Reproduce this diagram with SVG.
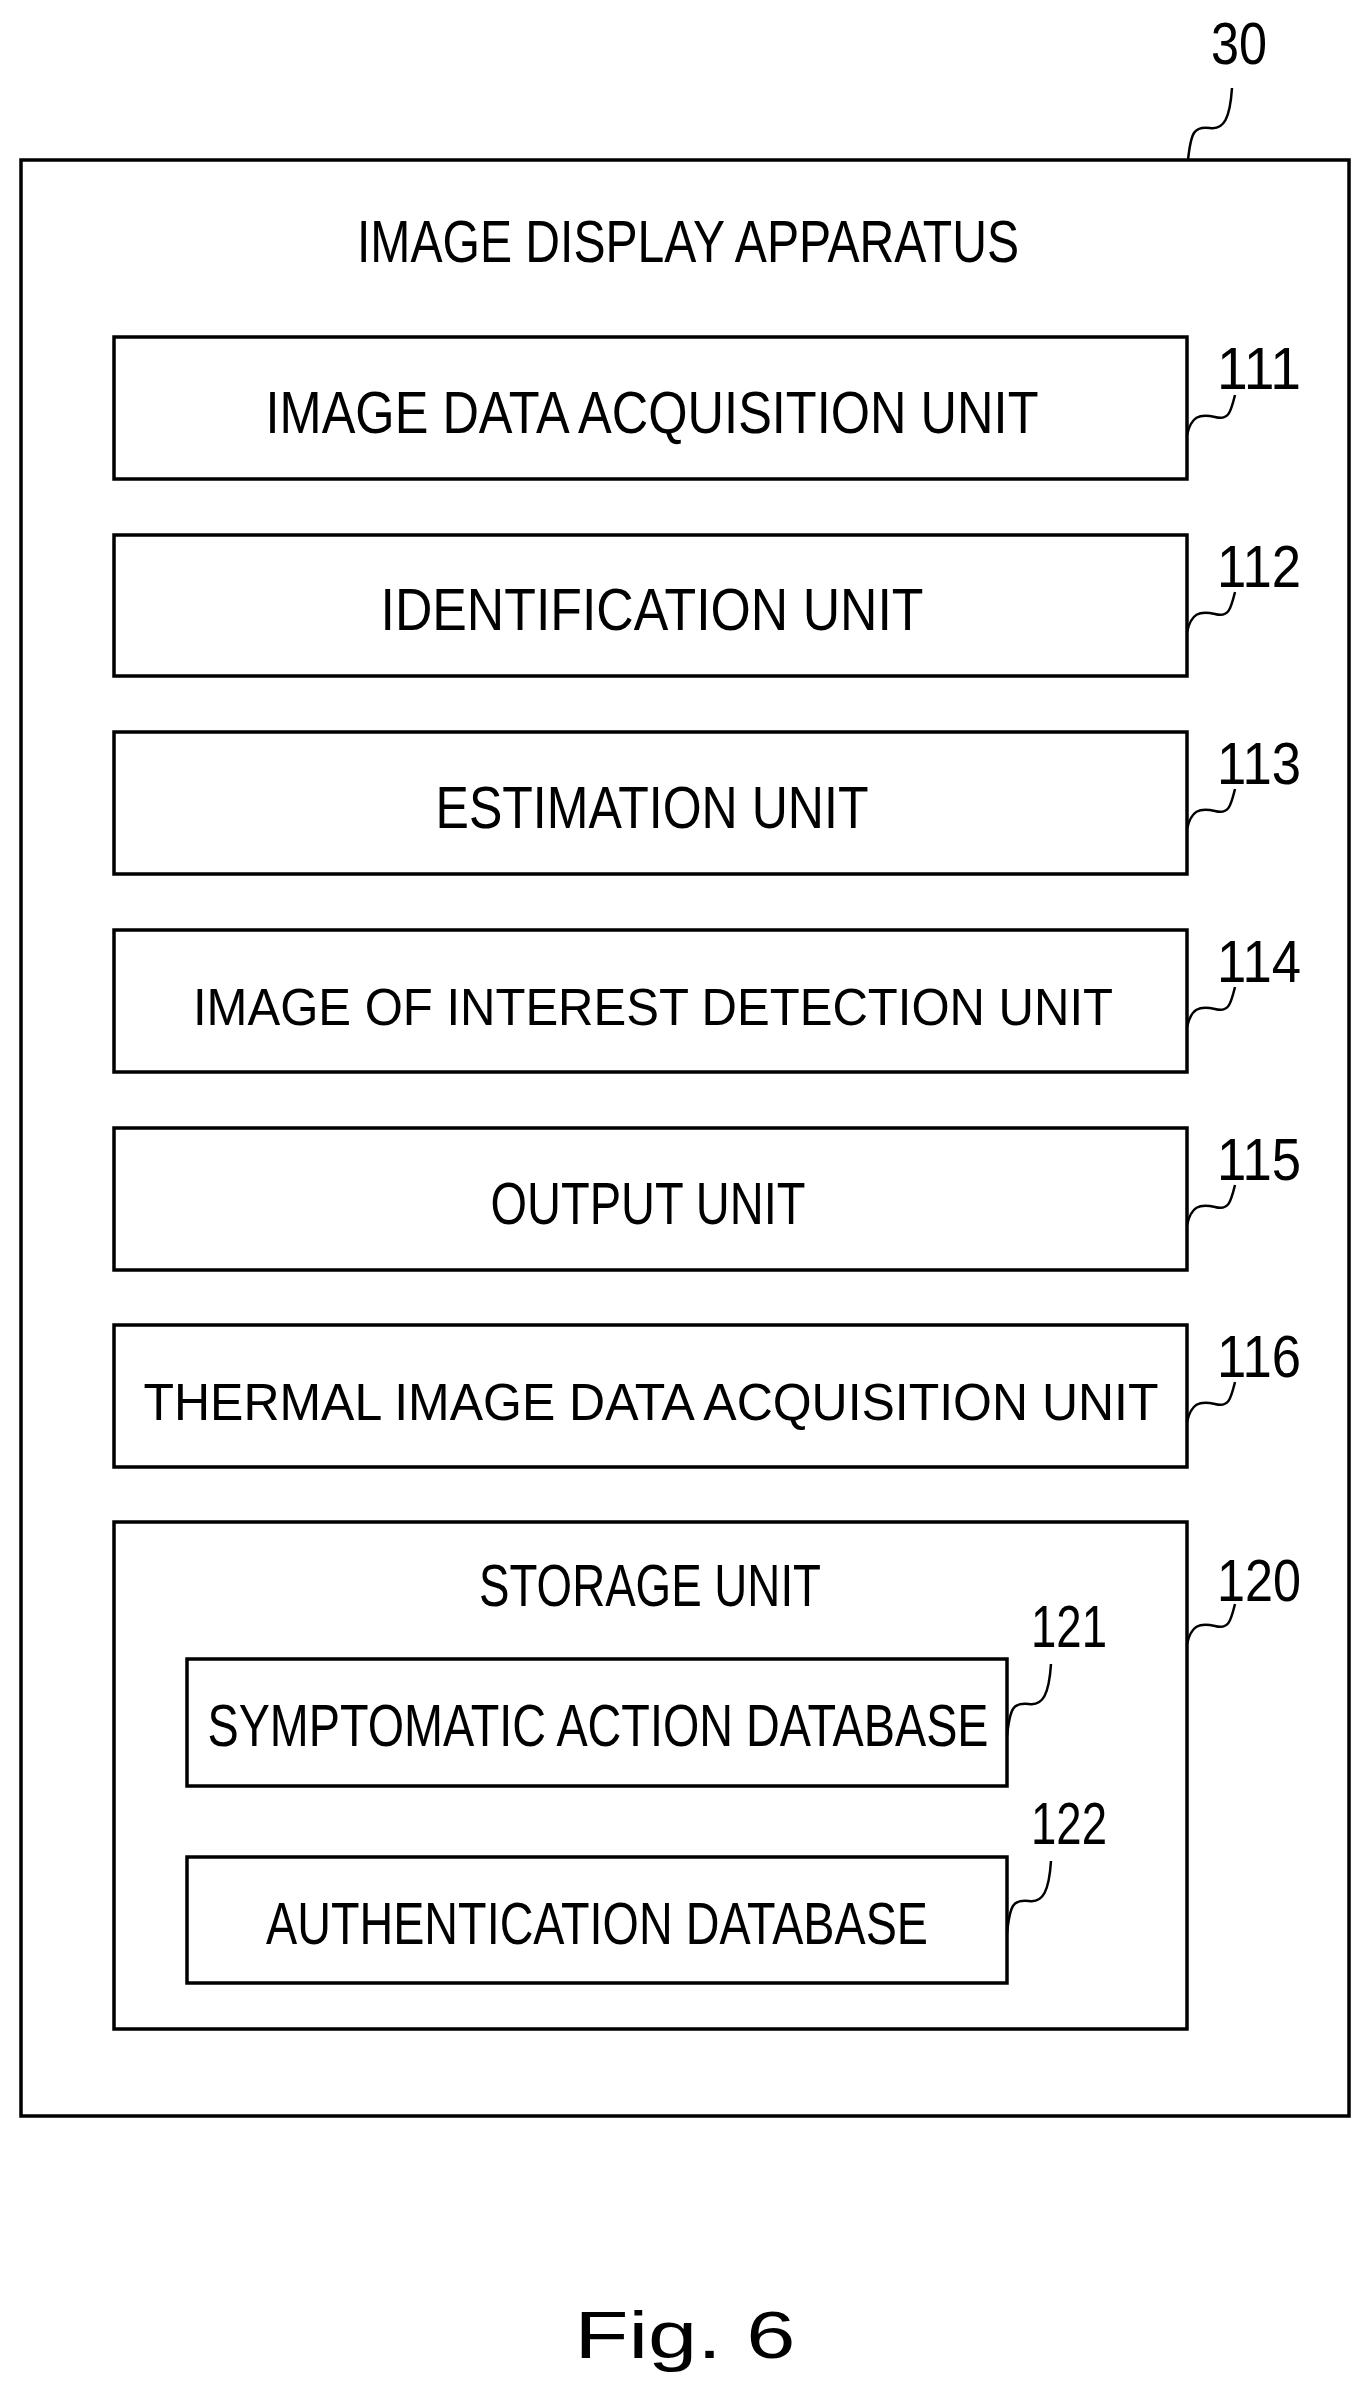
<svg xmlns="http://www.w3.org/2000/svg" width="1369" height="2381" viewBox="0 0 1369 2381">
<style>
.b{fill:none;stroke:#000;stroke-width:3.5}
.s{fill:none;stroke:#000;stroke-width:2.5}
text{font-family:"Liberation Sans",Arial,sans-serif;font-size:60px;fill:#000;text-anchor:middle}
.n{text-anchor:start}
.w{font-size:52px}
</style>
<defs>
<path id="sq" d="M0,0 c4,-18 12,-22 28,-18 c14,4 16,-6 20,-22"/>
<path id="sqL" d="M0,0 c3,-28 6,-34 22,-32 c14,2 20,-10 22,-40"/>
</defs>
<rect width="1369" height="2381" fill="#fff"/>
<g id="apparatus">
<rect class="b" x="21" y="160" width="1328" height="1956"/>
<text x="688" y="262" textLength="662" lengthAdjust="spacingAndGlyphs">IMAGE DISPLAY APPARATUS</text>
<text class="n" x="1211" y="64" textLength="56" lengthAdjust="spacingAndGlyphs">30</text>
</g>
<g id="n111"><rect class="b" x="114" y="337" width="1073" height="142"/><text x="652" y="433" textLength="773" lengthAdjust="spacingAndGlyphs">IMAGE DATA ACQUISITION UNIT</text><text class="n" x="1217" y="389" textLength="84" lengthAdjust="spacingAndGlyphs">111</text></g>
<g id="n112"><rect class="b" x="114" y="535" width="1073" height="141"/><text x="652" y="630" textLength="543" lengthAdjust="spacingAndGlyphs">IDENTIFICATION UNIT</text><text class="n" x="1217" y="587" textLength="84" lengthAdjust="spacingAndGlyphs">112</text></g>
<g id="n113"><rect class="b" x="114" y="732" width="1073" height="142"/><text x="652" y="828" textLength="433" lengthAdjust="spacingAndGlyphs">ESTIMATION UNIT</text><text class="n" x="1217" y="784" textLength="84" lengthAdjust="spacingAndGlyphs">113</text></g>
<g id="n114"><rect class="b" x="114" y="930" width="1073" height="142"/><text class="w" x="653" y="1025" textLength="920" lengthAdjust="spacingAndGlyphs" style="font-size:52px">IMAGE OF INTEREST DETECTION UNIT</text><text class="n" x="1217" y="982" textLength="84" lengthAdjust="spacingAndGlyphs">114</text></g>
<g id="n115"><rect class="b" x="114" y="1128" width="1073" height="142"/><text x="648" y="1224" textLength="315" lengthAdjust="spacingAndGlyphs">OUTPUT UNIT</text><text class="n" x="1217" y="1180" textLength="84" lengthAdjust="spacingAndGlyphs">115</text></g>
<g id="n116"><rect class="b" x="114" y="1325" width="1073" height="142"/><text class="w" x="651" y="1420" textLength="1015" lengthAdjust="spacingAndGlyphs" style="font-size:52px">THERMAL IMAGE DATA ACQUISITION UNIT</text><text class="n" x="1217" y="1377" textLength="84" lengthAdjust="spacingAndGlyphs">116</text></g>
<g id="n120"><rect class="b" x="114" y="1522" width="1073" height="507"/><text x="650" y="1606" textLength="342" lengthAdjust="spacingAndGlyphs">STORAGE UNIT</text><text class="n" x="1217" y="1601" textLength="84" lengthAdjust="spacingAndGlyphs">120</text></g>
<g id="n121"><rect class="b" x="187" y="1659" width="820" height="127"/><text x="598" y="1746" textLength="781" lengthAdjust="spacingAndGlyphs">SYMPTOMATIC ACTION DATABASE</text><text class="n" x="1031" y="1647" textLength="76" lengthAdjust="spacingAndGlyphs">121</text></g>
<g id="n122"><rect class="b" x="187" y="1857" width="820" height="126"/><text x="597" y="1944" textLength="662" lengthAdjust="spacingAndGlyphs">AUTHENTICATION DATABASE</text><text class="n" x="1031" y="1844" textLength="76" lengthAdjust="spacingAndGlyphs">122</text></g>
<g id="connectors">
<use href="#sqL" class="s" transform="translate(1188,160)"/>
<use href="#sq" class="s" transform="translate(1187,435)"/>
<use href="#sq" class="s" transform="translate(1187,632)"/>
<use href="#sq" class="s" transform="translate(1187,829)"/>
<use href="#sq" class="s" transform="translate(1187,1027)"/>
<use href="#sq" class="s" transform="translate(1187,1225)"/>
<use href="#sq" class="s" transform="translate(1187,1422)"/>
<use href="#sq" class="s" transform="translate(1187,1644)"/>
<use href="#sqL" class="s" transform="translate(1007,1736)"/>
<use href="#sqL" class="s" transform="translate(1007,1933)"/>
</g>
<text x="685" y="2358" textLength="221" lengthAdjust="spacingAndGlyphs" style="font-size:66px">Fig. 6</text>
</svg>
